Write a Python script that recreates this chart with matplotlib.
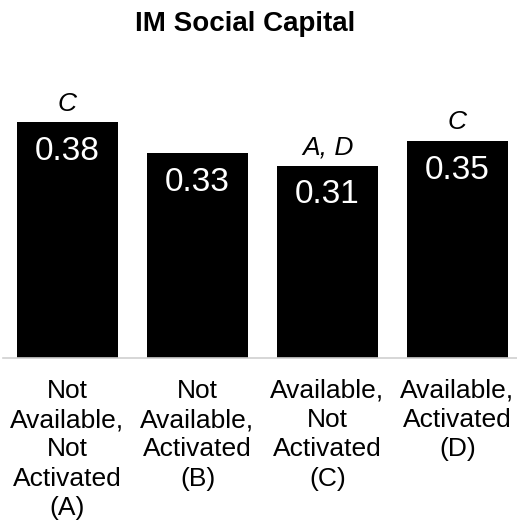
import matplotlib
matplotlib.use("Agg")
import matplotlib.pyplot as plt

categories = ["Not\nAvailable,\nNot\nActivated\n(A)", "Not\nAvailable,\nActivated\n(B)",
              "Available,\nNot\nActivated\n(C)", "Available,\nActivated\n(D)"]
values = [0.38, 0.33, 0.31, 0.35]
value_labels = ["0.38", "0.33", "0.31", "0.35"]
sig_labels = ["C", "", "A, D", "C"]

plt.rcParams['font.family'] = ['Liberation Sans', 'DejaVu Sans']
W, H = 517, 525
fig = plt.figure(figsize=(W/100, H/100), dpi=100)
ax = fig.add_axes([2.5/W, 167/H, 520/W, 248/H])
x = range(len(values))
ax.bar(x, values, width=0.77, color='black')
ax.set_xlim(-0.5, 3.5)
ax.set_ylim(0, 0.40)
for i, (v, vl, s) in enumerate(zip(values, value_labels, sig_labels)):
    ax.text(i, v - 0.047, vl, ha='center', va='center', color='white', fontsize=24)
    if s:
        ax.text(i, v + 0.030, s, ha='center', va='center', color='black', fontsize=19, style='italic')
ax.set_xticks(list(x))
ax.set_xticklabels(categories, fontsize=19, linespacing=1.28, va='top')
ax.tick_params(axis='x', length=0, pad=15)
ax.set_yticks([])
for sp in ['top', 'right', 'left']:
    ax.spines[sp].set_visible(False)
ax.spines['bottom'].set_color('#d0d0d0')
ax.spines['bottom'].set_linewidth(1.2)
fig.text(245/W, 1 - 24/H, "IM Social Capital", ha='center', va='center', fontsize=20, fontweight='bold')
fig.savefig("out.png", dpi=100)
